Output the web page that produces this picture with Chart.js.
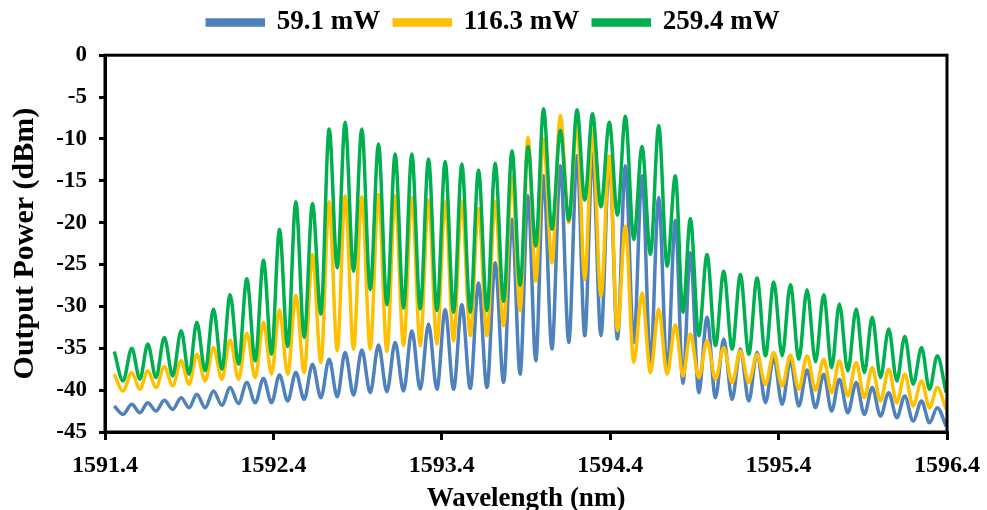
<!DOCTYPE html>
<html>
<head>
<meta charset="utf-8">
<script src="https://cdn.jsdelivr.net/npm/chart.js@4.4.0/dist/chart.umd.min.js"></script>
<style>
  html, body { margin: 0; padding: 0; background: #fff; }
  .chart-box { width: 987px; height: 510px; }
</style>
</head>
<body>
<div class="chart-box"><canvas id="spectrumChart"></canvas></div>
<script>
// Series names
var seriesNames = ["59.1 mW", "116.3 mW", "259.4 mW"];

// Wavelengths (nm) of the comb peaks and of the dips after each peak
var peakNm = [1591.455, 1591.559, 1591.654, 1591.752, 1591.852, 1591.945, 1592.044, 1592.143, 1592.242, 1592.341,
  1592.436, 1592.533, 1592.632, 1592.731, 1592.826, 1592.925, 1593.024, 1593.123, 1593.222, 1593.321,
  1593.420, 1593.519, 1593.618, 1593.717, 1593.817, 1593.912, 1594.004, 1594.104, 1594.203, 1594.295,
  1594.395, 1594.490, 1594.589, 1594.688, 1594.787, 1594.876, 1594.975, 1595.074, 1595.173, 1595.272,
  1595.371, 1595.470, 1595.569, 1595.668, 1595.761, 1595.861, 1595.956, 1596.054, 1596.149, 1596.249, 1596.342];
var dipNm = [1591.507, 1591.607, 1591.703, 1591.802, 1591.899, 1591.995, 1592.094, 1592.193, 1592.292, 1592.389,
  1592.485, 1592.583, 1592.682, 1592.779, 1592.876, 1592.975, 1593.074, 1593.173, 1593.272, 1593.371,
  1593.470, 1593.569, 1593.668, 1593.767, 1593.865, 1593.958, 1594.054, 1594.154, 1594.249, 1594.345,
  1594.443, 1594.540, 1594.639, 1594.738, 1594.832, 1594.926, 1595.025, 1595.124, 1595.223, 1595.322,
  1595.421, 1595.520, 1595.619, 1595.715, 1595.811, 1595.909, 1596.005, 1596.102, 1596.199, 1596.296, 1596.395];

// 59.1 mW (dBm)
var bluePeaks = [-41.9, -41.7, -41.5, -41.2, -40.9, -40.5, -40.1, -39.7, -39.1, -38.6,
  -38.2, -37.9, -36.9, -36.3, -35.5, -35.2, -34.6, -34.3, -32.9, -32.1,
  -30.4, -29.8, -27.2, -24.8, -19.6, -16.8, -14.4, -13.2, -12.0, -11.8,
  -12.4, -13.2, -14.4, -17.0, -19.7, -23.6, -31.3, -33.9, -35.1, -35.5,
  -36.1, -36.5, -37.6, -38.1, -38.7, -39.1, -39.7, -40.3, -40.7, -41.3, -42.1];
var blueDips = [-42.9, -42.7, -42.5, -42.3, -42.1, -42.1, -41.8, -41.6, -41.5, -41.5,
  -41.3, -41.1, -40.9, -40.8, -40.6, -40.3, -40.2, -40.1, -39.9, -39.9,
  -39.9, -39.8, -39.7, -39.1, -38.1, -36.5, -35.1, -34.3, -33.5, -33.5,
  -33.9, -34.3, -36.7, -37.9, -39.2, -40.3, -40.9, -41.1, -41.3, -41.5,
  -41.7, -41.9, -42.1, -42.5, -42.7, -42.9, -43.1, -43.3, -43.7, -43.9, -44.3];

// 116.3 mW (dBm)
var yellowPeaks = [-38.1, -37.9, -37.7, -37.2, -36.5, -35.7, -34.9, -34.0, -33.2, -31.9,
  -30.4, -28.7, -23.8, -17.5, -16.8, -16.9, -16.6, -16.8, -17.0, -17.3,
  -17.5, -17.5, -18.3, -17.5, -14.5, -9.8, -10.0, -7.2, -8.2, -9.0,
  -12.0, -20.4, -28.4, -30.3, -32.2, -33.3, -34.1, -34.9, -35.3, -35.7,
  -35.5, -35.8, -35.9, -36.3, -36.5, -36.7, -37.3, -37.5, -38.1, -38.9, -39.7];
var yellowDips = [-40.1, -39.9, -39.7, -39.5, -39.3, -38.9, -38.7, -38.7, -38.5, -38.1,
  -38.1, -37.9, -36.7, -35.3, -35.1, -35.1, -35.4, -34.7, -34.7, -34.5,
  -34.1, -33.5, -33.5, -32.3, -30.5, -27.0, -24.8, -20.0, -26.8, -28.8,
  -32.9, -36.7, -37.9, -38.1, -38.3, -38.5, -38.7, -39.1, -39.1, -39.3,
  -39.5, -39.9, -40.0, -40.3, -40.7, -40.9, -41.3, -41.5, -41.9, -42.1, -42.3];

// 259.4 mW (dBm)
var greenPeaks = [-35.4, -35.0, -34.5, -33.7, -32.9, -31.9, -30.3, -28.6, -26.7, -24.5,
  -20.8, -17.5, -17.7, -8.8, -8.0, -8.8, -10.6, -11.8, -11.8, -12.4,
  -12.7, -13.0, -13.7, -12.9, -11.4, -10.9, -6.4, -9.0, -6.5, -7.0,
  -8.0, -7.3, -10.9, -8.4, -14.4, -19.5, -23.8, -25.8, -26.2, -26.6,
  -27.1, -27.4, -28.0, -28.6, -29.7, -30.3, -31.3, -32.7, -33.6, -34.9, -35.9];
var greenDips = [-38.9, -38.7, -38.5, -38.3, -38.1, -37.7, -37.5, -36.9, -36.5, -35.7,
  -34.8, -33.7, -30.9, -25.4, -25.8, -28.0, -29.8, -30.2, -30.3, -30.5,
  -30.7, -30.7, -30.5, -29.4, -27.5, -22.8, -20.8, -19.7, -17.3, -18.1,
  -19.1, -22.0, -23.8, -25.2, -30.7, -33.5, -34.7, -35.1, -35.7, -35.9,
  -35.9, -36.3, -36.6, -37.3, -37.7, -37.9, -38.5, -38.9, -39.3, -39.9, -40.3];

// Tick labels
var xTickValues = [1591.4, 1592.4, 1593.4, 1594.4, 1595.4, 1596.4];
var yTickValues = [0, -5, -10, -15, -20, -25, -30, -35, -40, -45];

var seriesColors = ["#4F81BD", "#FFC000", "#00B050"];
var fontFamily = '"Liberation Serif", "Times New Roman", serif';

// peak, dip, peak, dip ...
function combPoints(peaks, dips) {
  var pts = [];
  for (var i = 0; i < peaks.length; i++) {
    pts.push({ x: peakNm[i], y: peaks[i] });
    pts.push({ x: dipNm[i], y: dips[i] });
  }
  return pts;
}

function makeSet(idx, peaks, dips) {
  return {
    label: seriesNames[idx],
    data: combPoints(peaks, dips),
    borderColor: seriesColors[idx],
    backgroundColor: seriesColors[idx],
    borderWidth: 3.5,
    pointRadius: 0,
    cubicInterpolationMode: "monotone",
    order: 3 - idx,
  };
}

// Box round the plot area
var plotFrame = {
  id: "plotFrame",
  afterDatasetsDraw: function (chart) {
    var a = chart.chartArea;
    var ctx = chart.ctx;
    ctx.save();
    ctx.strokeStyle = "#000";
    ctx.lineWidth = 3;
    ctx.strokeRect(a.left, a.top, a.right - a.left, a.bottom - a.top);
    ctx.restore();
  },
};

var ctx = document.getElementById("spectrumChart").getContext("2d");
var spectrumChart = new Chart(ctx, {
  type: "line",
  data: {
    datasets: [
      makeSet(0, bluePeaks, blueDips),
      makeSet(1, yellowPeaks, yellowDips),
      makeSet(2, greenPeaks, greenDips),
    ],
  },
  options: {
    responsive: true,
    maintainAspectRatio: false,
    animation: false,
    layout: { padding: { top: -5, right: 0, left: 0, bottom: 0 } },
    plugins: {
      tooltip: { enabled: false },
      legend: {
        position: "top",
        align: "center",
        labels: {
          color: "#000",
          boxWidth: 56,
          boxHeight: 5,
          padding: 14,
          font: { family: fontFamily, size: 27, weight: "bold" },
          sort: function (a, b) {
            return a.datasetIndex - b.datasetIndex;
          },
        },
      },
      // empty box: gap between legend and plot
      subtitle: {
        display: true,
        text: "",
        weight: 500,
        font: { size: 1 },
        padding: { top: 0, bottom: 8 },
      },
    },
    scales: {
      x: {
        type: "linear",
        min: 1591.4,
        max: 1596.4,
        afterBuildTicks: function (scale) {
          scale.ticks = xTickValues.map(function (v) { return { value: v }; });
        },
        afterFit: function (scale) {
          scale.height = 78;
          scale.paddingLeft = 0;
          scale.paddingRight = 40;
        },
        grid: { drawOnChartArea: false, drawTicks: true, tickLength: 8, color: "#000", lineWidth: 3 },
        border: { display: true, width: 3, color: "#000" },
        ticks: {
          color: "#000",
          padding: 11,
          maxRotation: 0,
          autoSkip: false,
          font: { family: fontFamily, size: 24, weight: "bold" },
          callback: function (v) {
            return Number(v).toFixed(1);
          },
        },
        title: {
          display: true,
          text: "Wavelength (nm)",
          color: "#000",
          padding: { top: 0, bottom: -5 },
          font: { family: fontFamily, size: 27, weight: "bold" },
        },
      },
      y: {
        type: "linear",
        min: -45,
        max: 0,
        afterBuildTicks: function (scale) {
          scale.ticks = yTickValues.map(function (v) { return { value: v }; });
        },
        afterFit: function (scale) {
          scale.width = 105;
        },
        grid: { drawOnChartArea: false, drawTicks: true, tickLength: 6, color: "#000", lineWidth: 3 },
        border: { display: true, width: 3, color: "#000" },
        ticks: {
          color: "#000",
          padding: 12,
          font: { family: fontFamily, size: 23, weight: "bold" },
        },
        title: {
          display: true,
          text: "Output Power (dBm)",
          color: "#000",
          padding: { top: 7, bottom: 0 },
          font: { family: fontFamily, size: 30, weight: "bold" },
        },
      },
    },
  },
  plugins: [plotFrame],
});
</script>
</body>
</html>
